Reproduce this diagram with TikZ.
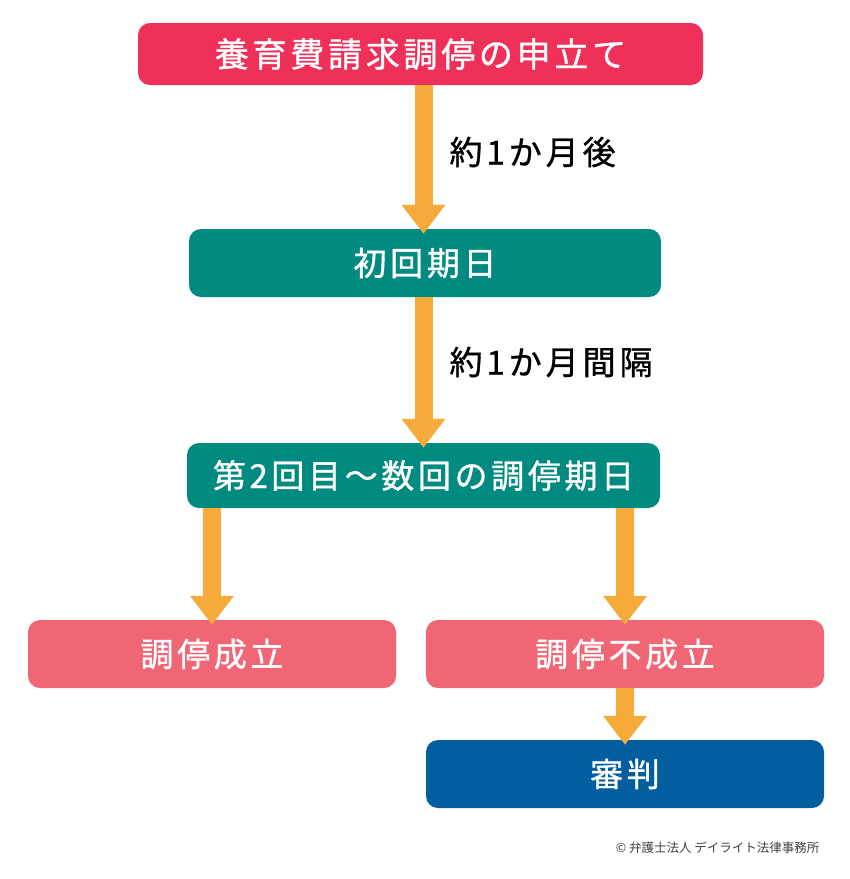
\documentclass[tikz,border=0pt]{standalone}
\usepackage{fontspec}
\newfontfamily\jp[LetterSpace=11, FakeBold=1]{Noto Sans CJK JP}
\newfontfamily\jplabel[LetterSpace=12, FakeBold=1]{Noto Sans CJK JP}
\newfontfamily\jpsmall{Noto Sans CJK JP}
\usetikzlibrary{arrows.meta}
\definecolor{applyred}{HTML}{EF3159}
\definecolor{dateteal}{HTML}{018A80}
\definecolor{endpink}{HTML}{F06675}
\definecolor{trialblue}{HTML}{025E9E}
\definecolor{flowarrow}{HTML}{F6AA3A}
\begin{document}
\begin{tikzpicture}[x=1pt, y=-1pt,
    stagebox/.style={rounded corners=12pt, text=white, inner sep=0pt,
        font=\jp\fontsize{33}{33}\selectfont},
    flow/.style={draw=flowarrow, line width=18pt,
        -{Triangle[width=42pt, length=29pt]}, shorten >=-5pt},
    steplabel/.style={font=\jplabel\fontsize{33}{33}\selectfont, anchor=west}]
    \useasboundingbox[fill=white] (0,0) rectangle (850,879);

    % boxes of the procedure
    \node[stagebox, fill=applyred, minimum width=565pt, minimum height=62pt,
        font=\jp\fontsize{34}{34}\selectfont] (apply) at (420.5,54) {養育費請求調停の申立て};
    \node[stagebox, fill=dateteal, minimum width=472pt, minimum height=68pt] (first) at (425,263) {初回期日};
    \node[stagebox, fill=dateteal, minimum width=473pt, minimum height=65pt] (later) at (423.5,475.5) {第2回目～数回の調停期日};
    \node[stagebox, fill=endpink, minimum width=368pt, minimum height=68pt] (settled) at (212,654) {調停成立};
    \node[stagebox, fill=endpink, minimum width=398pt, minimum height=68pt] (failed) at (625,654) {調停不成立};
    \node[stagebox, fill=trialblue, minimum width=398pt, minimum height=68pt] (trial) at (625,774) {審判};

    % arrows between the stages
    \draw[flow] (apply.south -| later.north) -- (later.north |- first.north);
    \draw[flow] (first.south -| later.north) -- (later.north);
    \draw[flow] (later.south -| settled.north) -- (settled.north);
    \draw[flow] (later.south -| failed.north) -- (failed.north);
    \draw[flow] (failed.south) -- (trial.north);

    % time between the dates
    \node[steplabel] (after) at (446,152) {約1か月後};
    \node[steplabel] (interval) at (446,362) {約1か月間隔};

    \node[font=\jpsmall\fontsize{12.5}{12.5}\selectfont, text=black!75, anchor=east] (credit) at (823,848) {© 弁護士法人 デイライト法律事務所};
\end{tikzpicture}
\end{document}
